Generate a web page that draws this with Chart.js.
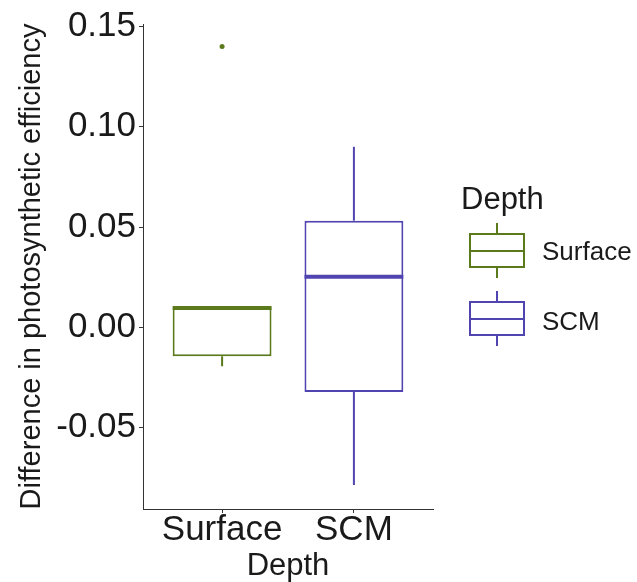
<!DOCTYPE html>
<html>
<head>
<meta charset="utf-8">
<script src="https://cdn.jsdelivr.net/npm/chart.js@4"></script>
<style>
    body { margin: 0; background: #fff; }
    #wrap { position: relative; width: 637px; height: 582px; }
    #legend { position: absolute; left: 0; top: 0; font-family: "Liberation Sans", Arial, sans-serif; color: #1a1a1a; }
    .lg-title { position: absolute; left: 461px; top: 183px; font-size: 31px; line-height: 31px; white-space: nowrap; }
    .key { position: absolute; left: 469px; width: 56px; height: 55px; }
    .key .box { position: absolute; left: 0; top: 10px; width: 56px; height: 35px; border: 2px solid; box-sizing: border-box; }
    .key .mid { position: absolute; left: 0; right: 0; top: 50%; height: 2px; margin-top: -1px; }
    .key .wt, .key .wb { position: absolute; left: 27px; width: 2px; height: 10px; }
    .key .wt { top: 0; }
    .key .wb { bottom: 0; }
    .lg-label { position: absolute; left: 542px; font-size: 26px; line-height: 26px; white-space: nowrap; }
</style>
</head>
<body>
<div id="wrap">
    <canvas id="boxChart"></canvas>
    <div id="legend"></div>
</div>
<script>
// Dados
const categorias = ['Surface', 'SCM'];
const q1 = [-0.0144, -0.0322];
const mediana = [0.0097, 0.0252];
const q3 = [0.0102, 0.0532];
const bigodeMin = [-0.0193, -0.0786];
const bigodeMax = [0.0102, 0.0900];
const outliersSurface = [0.140];
const outliersSCM = [];
const yTicks = [-0.05, 0.00, 0.05, 0.10, 0.15];

const cores = ['#5a7a1c', '#5045b0'];
const meiaLargura = 0.375; // metade da largura da caixa (unidades do eixo x)

const fonte = '"Liberation Sans", Arial, sans-serif';
const corTexto = '#1a1a1a';

// Caixas (barras flutuantes)
const datasets = [{
    type: 'bar',
    data: categorias.map((_, i) => ({ x: i + 1, y: [q1[i], q3[i]] })),
    backgroundColor: '#ffffff',
    borderColor: cores,
    borderWidth: 2,
    borderSkipped: false,
    barPercentage: 0.75,
    categoryPercentage: 1,
    order: 3
}];

// Bigodes e medianas
categorias.forEach((_, i) => {
    datasets.push({
        type: 'line',
        data: [{ x: i + 1, y: q3[i] }, { x: i + 1, y: bigodeMax[i] }],
        borderColor: cores[i], borderWidth: 2, pointRadius: 0, fill: false, order: 2
    });
    datasets.push({
        type: 'line',
        data: [{ x: i + 1, y: q1[i] }, { x: i + 1, y: bigodeMin[i] }],
        borderColor: cores[i], borderWidth: 2, pointRadius: 0, fill: false, order: 2
    });
    datasets.push({
        type: 'line',
        data: [{ x: i + 1 - meiaLargura, y: mediana[i] }, { x: i + 1 + meiaLargura, y: mediana[i] }],
        borderColor: cores[i], borderWidth: 4, pointRadius: 0, fill: false, order: 1
    });
});

// Outliers
[outliersSurface, outliersSCM].forEach((lista, i) => {
    datasets.push({
        type: 'line',
        data: lista.map(v => ({ x: i + 1, y: v })),
        showLine: false,
        pointRadius: 2.5,
        pointBackgroundColor: cores[i],
        pointBorderColor: cores[i],
        pointBorderWidth: 0,
        order: 0
    });
});

new Chart(document.getElementById('boxChart'), {
    type: 'bar',
    data: { datasets: datasets },
    options: {
        responsive: true,
        maintainAspectRatio: false,
        animation: false,
        layout: { padding: { left: 0, top: 23, right: 204, bottom: 0 } },
        plugins: { legend: { display: false }, tooltip: { enabled: false } },
        scales: {
            x: {
                type: 'linear',
                min: 0.4,
                max: 2.6,
                offset: false,
                afterBuildTicks: (scale) => { scale.ticks = categorias.map((_, i) => ({ value: i + 1 })); },
                afterFit: (scale) => { scale.height = 73; },
                grid: { display: true, offset: false, drawOnChartArea: false, drawTicks: true, tickLength: 4, tickColor: '#333', tickWidth: 1 },
                border: { display: true, color: '#333', width: 1 },
                ticks: {
                    autoSkip: false,
                    maxRotation: 0,
                    padding: 0,
                    color: corTexto,
                    font: { family: fonte, size: 35, lineHeight: 1 },
                    callback: (v) => categorias[Math.round(v) - 1] || ''
                },
                title: {
                    display: true,
                    text: 'Depth',
                    color: corTexto,
                    font: { family: fonte, size: 31, lineHeight: 1 },
                    padding: { top: 0, bottom: 0 }
                }
            },
            y: {
                min: -0.0905,
                max: 0.1512,
                afterBuildTicks: (scale) => { scale.ticks = yTicks.map(v => ({ value: v })); },
                afterFit: (scale) => { scale.width = 143; },
                grid: { display: true, drawOnChartArea: false, drawTicks: true, tickLength: 4, tickColor: '#333', tickWidth: 1 },
                border: { display: true, color: '#333', width: 1 },
                ticks: {
                    padding: 3,
                    color: corTexto,
                    font: { family: fonte, size: 35 },
                    callback: (v) => (Math.abs(v) < 1e-9 ? 0 : v).toFixed(2)
                },
                title: {
                    display: true,
                    text: 'Difference in photosynthetic efficiency',
                    color: corTexto,
                    font: { family: fonte, size: 29, lineHeight: 1 },
                    padding: { top: 17, bottom: 0 }
                }
            }
        }
    }
});

// Legenda em HTML
const legenda = document.getElementById('legend');
legenda.innerHTML = '<div class="lg-title">Depth</div>';
const topoChave = [223, 291];
const topoTexto = [238, 308];
categorias.forEach((nome, i) => {
    const c = cores[i];
    legenda.insertAdjacentHTML('beforeend',
        '<div class="key" style="top:' + topoChave[i] + 'px">' +
        '<div class="wt" style="background:' + c + '"></div>' +
        '<div class="box" style="border-color:' + c + '"><div class="mid" style="background:' + c + '"></div></div>' +
        '<div class="wb" style="background:' + c + '"></div>' +
        '</div>' +
        '<div class="lg-label" style="top:' + topoTexto[i] + 'px">' + nome + '</div>');
});
</script>
</body>
</html>
